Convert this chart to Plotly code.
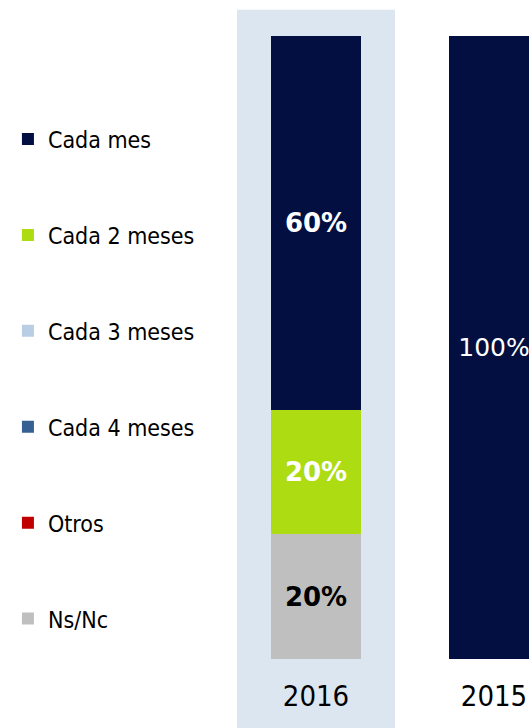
import plotly.graph_objects as go

years = ["2016", "2015"]
x_pos = [0, 1]

series = ["Ns/Nc", "Otros", "Cada 4 meses", "Cada 3 meses", "Cada 2 meses", "Cada mes"]
values = {
    "Ns/Nc": [20, 0],
    "Otros": [0, 0],
    "Cada 4 meses": [0, 0],
    "Cada 3 meses": [0, 0],
    "Cada 2 meses": [20, 0],
    "Cada mes": [60, 100],
}
colors = {
    "Ns/Nc": "#BFBFBF",
    "Otros": "#C00000",
    "Cada 4 meses": "#376092",
    "Cada 3 meses": "#B9CDE5",
    "Cada 2 meses": "#AEDC12",
    "Cada mes": "#020F40",
}
text_colors = {
    "Ns/Nc": "black",
    "Otros": "white",
    "Cada 4 meses": "white",
    "Cada 3 meses": "black",
    "Cada 2 meses": "white",
    "Cada mes": "white",
}

FONT = "DejaVu Sans Condensed, DejaVu Sans, sans-serif"
LABEL_FONT = "DejaVu Sans, sans-serif"


def label(v, i):
    if v == 0:
        return ""
    # 2016 labels are bold, 2015 plain
    return f"<b>{v}%</b>" if i == 0 else f"{v}%"


fig = go.Figure()
for rank, name in enumerate(series):
    vals = values[name]
    fig.add_trace(go.Bar(
        x=x_pos,
        y=vals,
        name=name,
        legendgroup=name,
        legendrank=len(series) - rank,
        width=0.5056,
        marker=dict(color=colors[name], line=dict(width=0)),
        text=[label(v, i) for i, v in enumerate(vals)],
        textposition="inside",
        insidetextanchor="middle",
        textangle=0,
        textfont=dict(family=LABEL_FONT, size=[26, 25], color=text_colors[name]),
        hoverinfo="skip",
    ))

fig.update_layout(
    barmode="stack",
    width=529,
    height=728,
    margin=dict(l=0, r=0, t=36, b=69),
    plot_bgcolor="white",
    paper_bgcolor="white",
    font=dict(family=FONT, color="black"),
    showlegend=True,
    legend=dict(
        traceorder="grouped",
        tracegroupgap=63,
        x=0.015,
        xanchor="left",
        y=0.869,
        yanchor="top",
        font=dict(family=FONT, size=23, color="black"),
        bgcolor="rgba(0,0,0,0)",
    ),
    xaxis=dict(
        range=[-1.7753, -1.7753 + 529 / 178],
        tickvals=x_pos,
        ticktext=years,
        tickfont=dict(family=FONT, size=29, color="black"),
        ticklabelstandoff=17,
        showgrid=False,
        zeroline=False,
        showline=False,
        ticks="",
        fixedrange=True,
    ),
    yaxis=dict(
        range=[0, 100],
        visible=False,
        fixedrange=True,
    ),
    shapes=[dict(
        type="rect",
        xref="x",
        yref="paper",
        x0=-0.4438,
        x1=0.4438,
        y0=-0.111,
        y1=1.042,
        fillcolor="#DCE6F1",
        line=dict(width=0),
        layer="below",
    )],
)

# drop the default 8px page margin so the figure fills the window
fig.write_html(
    "out.html",
    config={"displayModeBar": False},
    post_script="document.body.style.margin = '0'; document.body.style.overflow = 'hidden';",
)
